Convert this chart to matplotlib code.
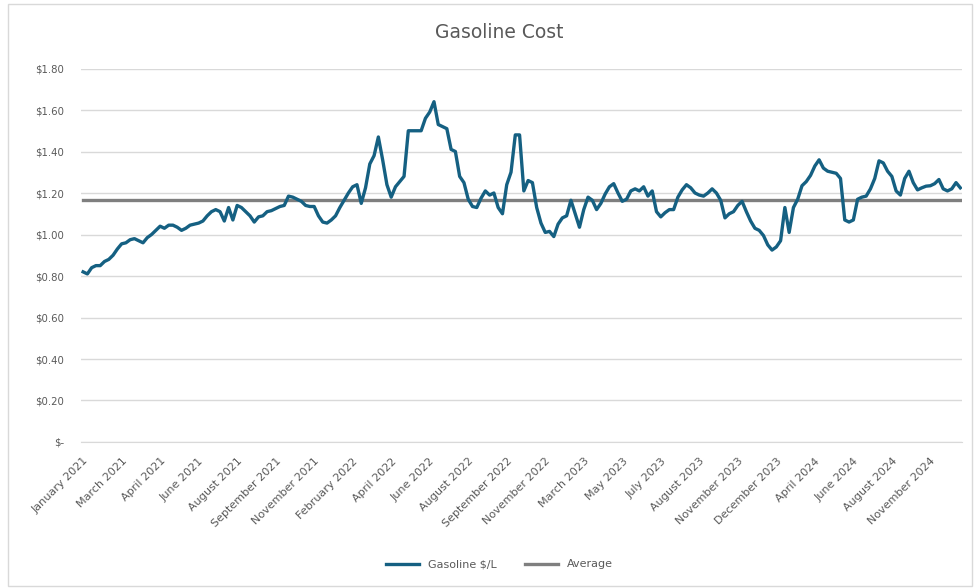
import numpy as np
import matplotlib
matplotlib.use('Agg')
import matplotlib.pyplot as plt
from matplotlib.patches import Rectangle

# weekly gasoline price ($/L)
gas_price = [
    0.82, 0.81, 0.84, 0.85, 0.85, 0.87, 0.88, 0.90, 0.93, 0.955,
    0.96, 0.975, 0.98, 0.97, 0.96, 0.985, 1.00, 1.02, 1.04, 1.03,
    1.045, 1.045, 1.035, 1.02, 1.03, 1.045, 1.05, 1.055, 1.065, 1.09,
    1.11, 1.12, 1.11, 1.065, 1.13, 1.07, 1.14, 1.13, 1.11, 1.09,
    1.06, 1.085, 1.09, 1.11, 1.115, 1.125, 1.135, 1.14, 1.185, 1.18,
    1.17, 1.16, 1.14, 1.135, 1.135, 1.09, 1.06, 1.055, 1.07, 1.09,
    1.13, 1.165, 1.20, 1.23, 1.24, 1.15, 1.225, 1.34, 1.38, 1.47,
    1.36, 1.24, 1.18, 1.23, 1.255, 1.28, 1.50, 1.50, 1.50, 1.50,
    1.56, 1.59, 1.64, 1.53, 1.52, 1.51, 1.41, 1.40, 1.28, 1.25,
    1.17, 1.135, 1.13, 1.175, 1.21, 1.19, 1.20, 1.13, 1.10, 1.24,
    1.30, 1.48, 1.48, 1.21, 1.26, 1.25, 1.13, 1.055, 1.01, 1.015,
    0.99, 1.05, 1.08, 1.09, 1.165, 1.10, 1.035, 1.12, 1.18, 1.165,
    1.12, 1.15, 1.195, 1.23, 1.245, 1.20, 1.16, 1.17, 1.21, 1.22,
    1.21, 1.23, 1.185, 1.21, 1.11, 1.085, 1.105, 1.12, 1.12, 1.18,
    1.215, 1.24, 1.225, 1.20, 1.19, 1.185, 1.20, 1.22, 1.20, 1.165,
    1.08, 1.10, 1.11, 1.14, 1.16, 1.11, 1.065, 1.03, 1.02, 0.995,
    0.95, 0.925, 0.94, 0.97, 1.13, 1.01, 1.13, 1.17, 1.235, 1.255,
    1.285, 1.33, 1.36, 1.32, 1.305, 1.30, 1.295, 1.27, 1.07, 1.06,
    1.07, 1.17, 1.18, 1.185, 1.22, 1.27, 1.355, 1.345, 1.305, 1.28,
    1.21, 1.19, 1.27, 1.305, 1.25, 1.215, 1.225, 1.233, 1.235, 1.245,
    1.265, 1.22, 1.21, 1.22, 1.25, 1.225,
]

# category labels shown every 9th point
month_labels = [
    'January 2021', 'March 2021', 'April 2021', 'June 2021', 'August 2021',
    'September 2021', 'November 2021', 'February 2022', 'April 2022', 'June 2022',
    'August 2022', 'September 2022', 'November 2022', 'March 2023', 'May 2023',
    'July 2023', 'August 2023', 'November 2023', 'December 2023', 'April 2024',
    'June 2024', 'August 2024', 'November 2024',
]
label_step = 9

y_ticks = [0, 0.2, 0.4, 0.6, 0.8, 1.0, 1.2, 1.4, 1.6, 1.8]

gas_price = np.array(gas_price)
n = len(gas_price)
x = np.arange(n)
avg = np.full(n, gas_price.mean())

text_col = '#595959'
grid_col = '#d9d9d9'

fig = plt.figure(figsize=(9.79, 5.88), dpi=100)
fig.patches.append(Rectangle((0.008, 0.004), 0.985, 0.99, transform=fig.transFigure,
                             fill=False, edgecolor=grid_col, linewidth=1.0))

ax = fig.add_axes([0.0827, 0.2483, 0.9004, 0.6352])
ax.plot(x, gas_price, color='#156082', linewidth=2.4, label='Gasoline $/L', zorder=3)
ax.plot(x, avg, color='#7f7f7f', linewidth=2.4, label='Average', zorder=2)

ax.set_xlim(-0.5, n - 0.5)
ax.set_ylim(0, 1.8)
ax.set_yticks(y_ticks)
ax.set_yticklabels(['$-' if v == 0 else f'${v:.2f}' for v in y_ticks])
ax.set_xticks(x[::label_step][:len(month_labels)])
ax.set_xticklabels(month_labels, rotation=45, ha='right', rotation_mode='anchor')

ax.tick_params(axis='both', length=0, colors=text_col)
ax.tick_params(axis='y', pad=12, labelsize=7.3)
ax.tick_params(axis='x', pad=10, labelsize=8)
ax.grid(axis='y', color=grid_col, linewidth=1.0)
ax.set_axisbelow(True)
for side in ['top', 'left', 'right']:
    ax.spines[side].set_visible(False)
ax.spines['bottom'].set_color(grid_col)

fig.text(0.51, 0.945, 'Gasoline Cost', ha='center', va='center', fontsize=13.5, color=text_col)

fig.legend(loc='center', bbox_to_anchor=(0.51, 0.04), ncol=2, frameon=False,
           fontsize=8, labelcolor=text_col, handlelength=3.0, columnspacing=2.5)

plt.savefig('out.png', dpi=100)
